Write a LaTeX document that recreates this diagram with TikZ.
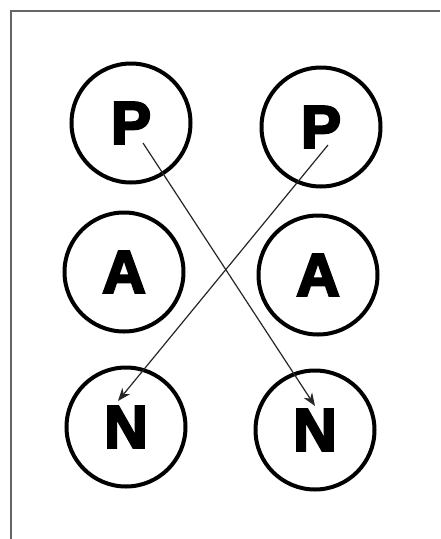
\documentclass[tikz,border=0pt]{standalone}
\usepackage{fontspec}
\newfontfamily\heavy{Liberation Sans}[BoldFeatures={FakeBold=4}]
\usetikzlibrary{arrows.meta}
\begin{document}
\begin{tikzpicture}[x=1pt,y=-1pt,
  ring/.style={circle,draw=black,line width=4pt,minimum size=119pt,inner sep=0pt,
    font=\heavy\bfseries\fontsize{60}{60}\selectfont},
  frameline/.style={draw=black!60,line width=2pt},
  link/.style={draw=black!85,line width=1.2pt,-{Stealth[length=13pt,width=10pt]}}]
\useasboundingbox (0,0) rectangle (440,539);
\fill[white] (0,0) rectangle (440,539);
\draw[frameline] (11,539) -- (11,11) -- (440,11);
\node[ring] (p1) at (131,123) {P};
\node[ring] (p2) at (321,127) {P};
\node[ring] (a1) at (124,272) {A};
\node[ring] (a2) at (318,275) {A};
\node[ring] (n1) at (126,427) {N};
\node[ring] (n2) at (315,430) {N};
\coordinate (s1) at (143,143);
\coordinate (e1) at (315,406);
\coordinate (s2) at (328,145);
\coordinate (e2) at (118,401);
\draw[link] (s1) -- (e1);
\draw[link] (s2) -- (e2);
\end{tikzpicture}
\end{document}
